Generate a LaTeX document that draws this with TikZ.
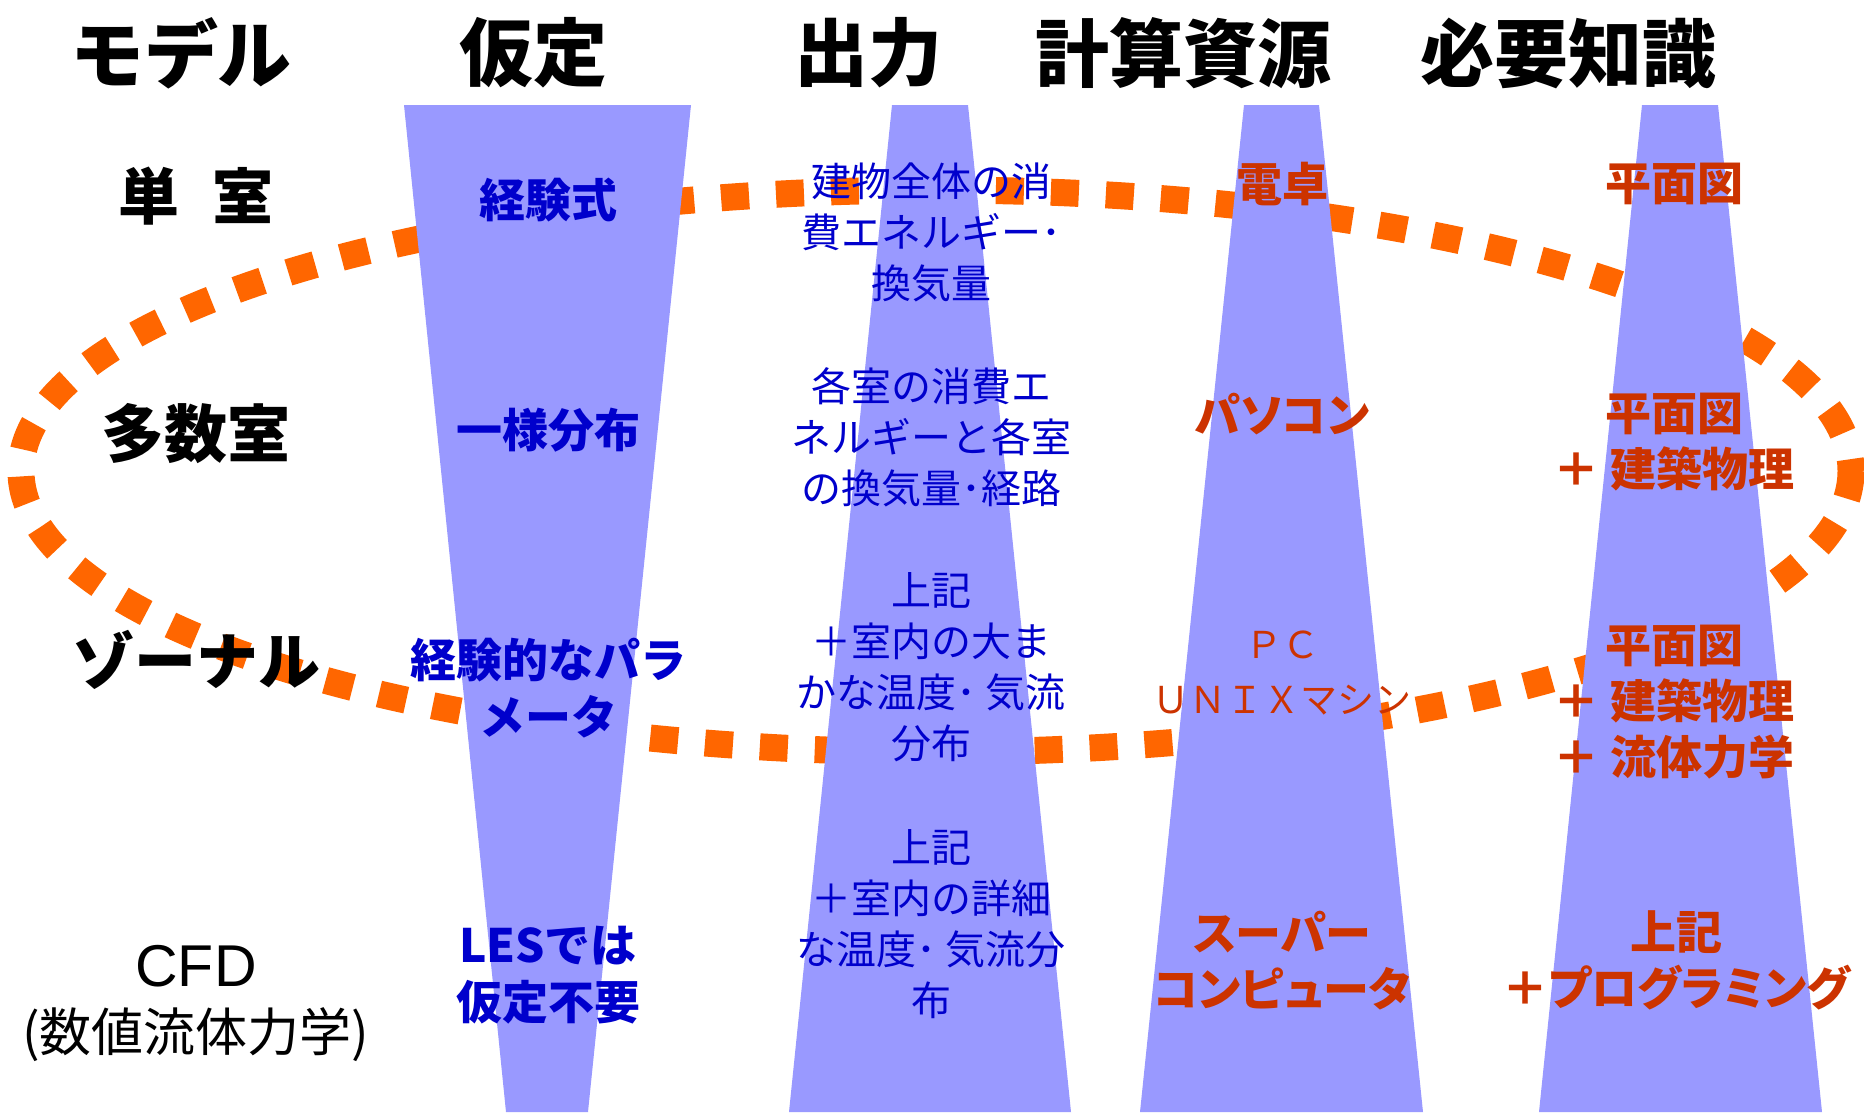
\documentclass[tikz,border=0pt]{standalone}
\usepackage{fontspec}
\setmainfont{Noto Sans CJK JP}
\newfontfamily\pfont{Noto Sans CJK JP}[RawFeature=+palt]
\newfontfamily\arialfont{Liberation Sans}
\definecolor{trapfill}{HTML}{9999FF}
\definecolor{asmblue}{HTML}{0000CC}
\definecolor{resred}{HTML}{CC3300}
\definecolor{ringorange}{HTML}{FF6600}
\begin{document}
\begin{tikzpicture}[x=1pt,y=-1pt,
  every node/.style={inner sep=0pt, outer sep=0pt},
  title/.style={font=\fontsize{74}{80}\selectfont\bfseries, text=black},
  rowlbl/.style={font=\fontsize{61}{66}\selectfont\bfseries, text=black, align=center},
  asm/.style={font=\fontsize{46}{57}\selectfont\bfseries, text=asmblue, align=center},
  outp/.style={font=\fontsize{40}{51}\selectfont, text=asmblue, align=center},
  res/.style={font=\pfont\bfseries\fontsize{46}{56}\selectfont, text=resred, align=center},
  resthin/.style={font=\fontsize{37}{55}\selectfont, text=resred, align=center},
  trap/.style={fill=trapfill},
  ring/.style={draw=ringorange, line width=27pt, dash pattern=on 28pt off 27pt}
]
\fill[white] (0,0) rectangle (1864,1112);
\useasboundingbox (0,0) rectangle (1864,1112);

% dotted ellipse (under the columns)
\coordinate (ringc) at (936,471);
\draw[ring] (ringc) ellipse [x radius=915, y radius=281];

% column bands
\fill[trap] (404,105) -- (691,105) -- (588,1112) -- (506,1112) -- cycle;
\fill[trap] (892,105) -- (968,105) -- (1071,1112) -- (789,1112) -- cycle;
\fill[trap] (1244,105) -- (1319,105) -- (1423,1112) -- (1140,1112) -- cycle;
\fill[trap] (1642,105) -- (1718,105) -- (1822,1112) -- (1539,1112) -- cycle;

% titles
\node[title] (tModel) at (181,53) {モデル};
\node[title] (tAssume) at (533,53) {仮定};
\node[title] (tOut) at (868,53) {出力};
\node[title] (tRes) at (1183,53) {計算資源};
\node[title] (tKnow) at (1568,53) {必要知識};

% models
\node[rowlbl] (m1) at (196,196) {単\hspace{0.55em}室};
\node[rowlbl, font=\fontsize{63}{66}\selectfont\bfseries] (m2) at (196,434) {多数室};
\node[rowlbl, font=\fontsize{62}{66}\selectfont\bfseries] (m3) at (196,660) {ゾーナル};
\node[rowlbl, font=\arialfont\fontsize{59}{64}\selectfont] (m4a) at (196,966) {CFD};
\node[rowlbl, font=\fontsize{52}{60}\selectfont] (m4b) at (196,1035) {(数値流体力学)};

% assumptions
\node[asm] (a1) at (548,200) {経験式};
\node[asm] (a2) at (548,430) {一様分布};
\node[asm] (a3) at (548,688) {経験的なパラ\\メータ};
\node[asm] (a4) at (548,975) {LESでは\\仮定不要};

% outputs
\node[outp] (o1) at (931,232) {建物全体の消\\費エネルギー･\\換気量};
\node[outp] (o2) at (931,437) {各室の消費エ\\ネルギーと各室\\の換気量･経路};
\node[outp] (o3) at (931,667) {上記\\＋室内の大ま\\かな温度･ 気流\\分布};
\node[outp] (o4) at (931,924) {上記\\＋室内の詳細\\な温度･ 気流分\\布};

% resources
\node[res] (r1) at (1282,184) {電卓};
\node[res] (r2) at (1282,414) {パソコン};
\node[resthin] (r3) at (1282,673) {ＰＣ\\ＵＮＩＸマシン};
\node[res] (r4) at (1282,961) {スーパー\\コンピュータ};

% knowledge
\node[res] (k1) at (1674,184) {平面図};
\node[res] (k2) at (1674,442) {平面図\\＋ 建築物理};
\node[res] (k3) at (1674,702) {平面図\\＋ 建築物理\\＋ 流体力学};
\node[res] (k4) at (1676,960) {上記\\＋プログラミング};
\end{tikzpicture}
\end{document}
